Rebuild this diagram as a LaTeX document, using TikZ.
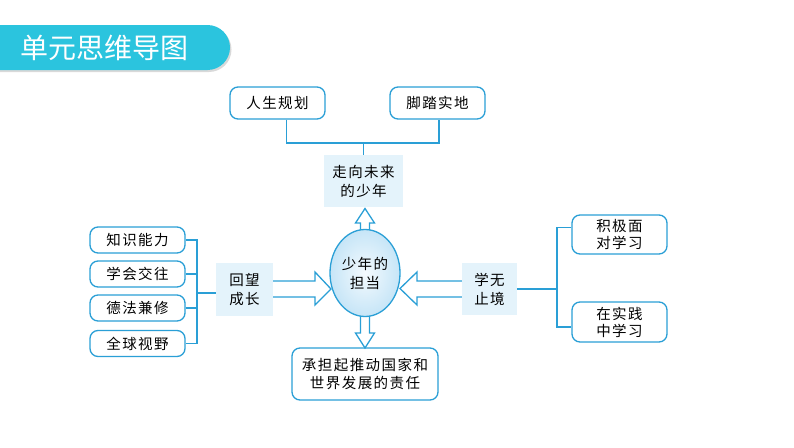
\documentclass[tikz,border=0pt]{standalone}
\usepackage{fontspec}
\setmainfont{Noto Sans CJK SC}[LetterSpace=10]
\newfontfamily\titlefont{Noto Sans CJK SC}
\usetikzlibrary{calc,shapes.geometric}
\definecolor{lineblue}{HTML}{2A9FD6}
\definecolor{banner}{HTML}{2BC4DE}
\definecolor{paleblue}{HTML}{E4F3FB}
\definecolor{ellout}{HTML}{C6E5F7}
\definecolor{ellin}{HTML}{F4FAFE}
\tikzset{
  rbox/.style={draw=lineblue, line width=1.3pt, rounded corners=8pt, fill=white,
    minimum width=#1, inner sep=0pt, align=center, font=\fontsize{14.5}{18}\selectfont},
  rbox/.default=95pt,
  pbox/.style={fill=paleblue, inner sep=0pt, align=center, font=\fontsize{14.5}{19}\selectfont},
  link/.style={draw=lineblue, line width=1.3pt},
  blockarrow/.style={draw=lineblue, line width=1.3pt, fill=white, line join=miter}
}
\begin{document}
\begin{tikzpicture}[x=1pt,y=-1pt]
\useasboundingbox (0,0) rectangle (794,447);
% title banner
\fill[black!15] (0,27) -- (209,27) arc[start angle=-90,end angle=90,radius=22.5] -- (0,72) -- cycle;
\fill[banner] (0,25) -- (207.5,25) arc[start angle=-90,end angle=90,radius=22.5] -- (0,70) -- cycle;
\node[text=white, font=\titlefont\fontsize{28}{32}\selectfont] (title) at (104,47.5) {单元思维导图};

% top
\node[rbox, minimum height=32pt] (n1) at (277.5,103) {人生规划};
\node[rbox, minimum height=32pt] (n2) at (437.5,103) {脚踏实地};
\node[pbox, minimum width=79pt, minimum height=52pt] (future) at (363.5,181) {走向未来\\的少年};
\coordinate (topbar) at (363.5,143);
\draw[link] ($(n1.south)+(9,0)$) |- (topbar) -| ($(n2.south)+(1.5,0)$);
\draw[link] (topbar) -- (future.north);

% arrows (drawn before ellipse)
% up
\draw[blockarrow] (365-4.5,233) -- (365-4.5,223) -- (365-9.5,223) -- (365,208.5) -- (365+9.5,223) -- (365+4.5,223) -- (365+4.5,233);
% down
\node[rbox, minimum width=146pt, minimum height=52pt] (bottom) at (365,374) {承担起推动国家和\\世界发展的责任};
\draw[blockarrow] (365-4.5,313) -- (365-4.5,333) -- (365-9.5,333) -- (365,348) -- (365+9.5,333) -- (365+4.5,333) -- (365+4.5,313);

% left
\node[pbox, minimum width=57pt, minimum height=53pt] (hw) at (244.5,289.5) {回望\\成长};
\draw[blockarrow] (hw.east |- 0,281) -- (315,281) -- (315,272) -- (331,289) -- (315,305) -- (315,297) -- (hw.east |- 0,297);
% right
\node[pbox, minimum width=55pt, minimum height=52pt] (xw) at (489.5,289) {学无\\止境};
\draw[blockarrow] (xw.west |- 0,281) -- (417,281) -- (417,272) -- (400,288.5) -- (417,305) -- (417,297) -- (xw.west |- 0,297);

\node[draw=lineblue, line width=1.3pt, ellipse, minimum width=70pt, minimum height=87pt, inner sep=0pt,
  inner color=ellin, outer color=ellout, align=center, font=\fontsize{14.5}{19}\selectfont] (el) at (365,273) {少年的\\担当};

% left list
\node[rbox, minimum height=26pt] (l1) at (137.5,240) {知识能力};
\node[rbox, minimum height=26pt] (l2) at (137.5,274) {学会交往};
\node[rbox, minimum height=26pt] (l3) at (137.5,308) {德法兼修};
\node[rbox, minimum height=26pt] (l4) at (137.5,343.5) {全球视野};
\coordinate (lbar) at (197,293);
\draw[link] (hw.west |- lbar) -- (lbar);
\draw[link] (l1.east) -- (l1.east -| lbar) -- (l4.east -| lbar) -- (l4.east);
\draw[link] (l2.east) -- (l2.east -| lbar);
\draw[link] (l3.east) -- (l3.east -| lbar);

% right list
\node[rbox, minimum height=39pt, font=\fontsize{14.5}{17}\selectfont] (r1) at (619.5,234.5) {积极面\\对学习};
\node[rbox, minimum height=40pt, font=\fontsize{14.5}{17}\selectfont] (r2) at (619.5,322) {在实践\\中学习};
\coordinate (rbar) at (557,289);
\draw[link] (xw.east |- rbar) -- (rbar);
\draw[link] ($(r1.west)+(0,-7)$) -| (rbar |- 0,227) -- (rbar |- 0,327) -- ($(r2.west)+(0,5)$);
\end{tikzpicture}
\end{document}
